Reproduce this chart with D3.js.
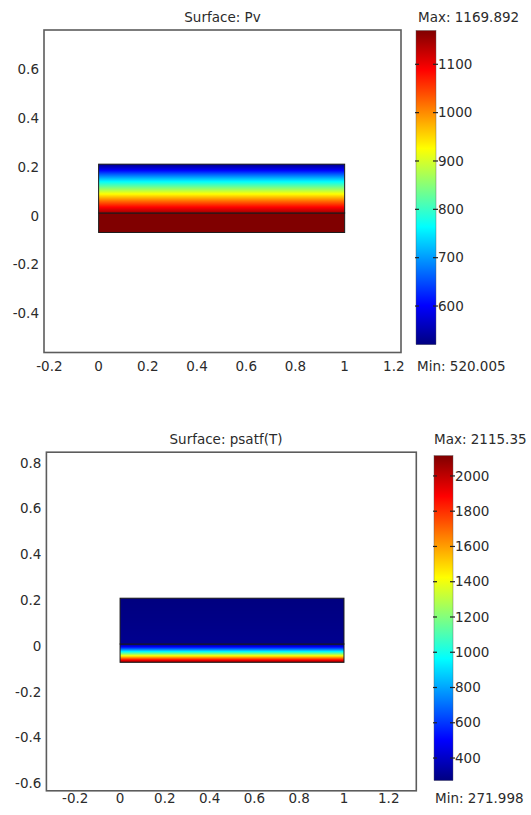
<!DOCTYPE html>
<html><head><meta charset="utf-8">
<script src="https://cdn.jsdelivr.net/npm/d3@7"></script>
<style>
body{margin:0;background:#fff;}
text{font-family:"DejaVu Sans",Verdana,sans-serif;font-size:13.5px;fill:#2b2b2b;}
</style>
</head><body>
<svg id="chart" width="531" height="815"></svg>
<script>
// ---------- Panel 1: Surface: Pv ----------
const pvTitle = "Surface: Pv";
const pvMax = 1169.892;
const pvMin = 520.005;
const pvUpperY   = [0, 0.025, 0.05, 0.075, 0.1, 0.125, 0.15, 0.175, 0.2];
const pvUpperVal = [1150, 1085, 1015, 935, 855, 775, 690, 600, 525];
const pvLowerY   = [-0.08, 0];
const pvLowerVal = [1169.892, 1169.892];
const pvXTicks   = [-0.2, 0, 0.2, 0.4, 0.6, 0.8, 1, 1.2];
const pvYTicks   = [-0.4, -0.2, 0, 0.2, 0.4, 0.6];
const pvBarTicks = [600, 700, 800, 900, 1000, 1100];

// ---------- Panel 2: Surface: psatf(T) ----------
const psTitle = "Surface: psatf(T)";
const psMax = 2115.35;
const psMin = 271.998;
const psUpperY   = [0, 0.1, 0.2];
const psUpperVal = [300, 285, 272];
const psLowerY   = [-0.08, -0.07, -0.06, -0.05, -0.04, -0.03, -0.02, -0.01, 0];
const psLowerVal = [2115, 1890, 1640, 1380, 1120, 880, 650, 450, 300];
const psXTicks   = [-0.2, 0, 0.2, 0.4, 0.6, 0.8, 1, 1.2];
const psYTicks   = [-0.6, -0.4, -0.2, 0, 0.2, 0.4, 0.6, 0.8];
const psBarTicks = [400, 600, 800, 1000, 1200, 1400, 1600, 1800, 2000];

// geometry extent (x) of the rectangle
const geomX = [0, 1];

// jet colormap
const jetStops = [[0,0,0,0.5],[0.125,0,0,1],[0.375,0,1,1],[0.625,1,1,0],[0.875,1,0,0],[1,0.5,0,0]];
function jet(t){
  t = Math.max(0, Math.min(1, t));
  for (let i = 1; i < jetStops.length; i++){
    const a = jetStops[i-1], b = jetStops[i];
    if (t <= b[0]){
      const f = (t - a[0]) / (b[0] - a[0]);
      const c = [1,2,3].map(k => Math.round(255*(a[k] + f*(b[k]-a[k]))));
      return `rgb(${c[0]},${c[1]},${c[2]})`;
    }
  }
  return "rgb(128,0,0)";
}
const fmt = d => String(+d.toFixed(1));

const svg = d3.select("#chart");
const defs = svg.append("defs");
let gid = 0;

function drawPanel(p){
  const g = svg.append("g");
  const x = d3.scaleLinear().domain(p.xDomain).range([p.frame.x0, p.frame.x1]);
  const y = d3.scaleLinear().domain(p.yDomain).range([p.frame.y1, p.frame.y0]);
  const norm = v => (v - p.min) / (p.max - p.min);

  // title
  g.append("text").attr("x", p.titleX).attr("y", p.titleY).attr("dy","0.35em")
    .attr("text-anchor","middle").text(p.title);

  // subdomains with gradient shading
  p.subs.forEach(s => {
    const yb = d3.min(s.ys), yt = d3.max(s.ys);
    const prof = d3.scaleLinear().domain(s.ys).range(s.vals);
    const id = "g" + (gid++);
    const grad = defs.append("linearGradient").attr("id", id)
      .attr("gradientUnits","userSpaceOnUse")
      .attr("x1",0).attr("x2",0).attr("y1", y(yb)).attr("y2", y(yt));
    const N = 60;
    d3.range(N+1).forEach(i => {
      const yy = yb + (yt - yb) * i / N;
      grad.append("stop").attr("offset", i/N).attr("stop-color", jet(norm(prof(yy))));
    });
    g.append("rect")
      .attr("x", x(geomX[0])).attr("width", x(geomX[1]) - x(geomX[0]))
      .attr("y", y(yt)).attr("height", y(yb) - y(yt))
      .attr("fill", `url(#${id})`)
      .attr("stroke", "#1a1a1a").attr("stroke-width", 1);
  });

  // frame
  g.append("rect").attr("x", p.frame.x0).attr("y", p.frame.y0)
    .attr("width", p.frame.x1 - p.frame.x0).attr("height", p.frame.y1 - p.frame.y0)
    .attr("fill","none").attr("stroke","#5c5c5c").attr("stroke-width",1.6);

  // x tick labels
  g.selectAll(null).data(p.xTicks).join("text")
    .attr("x", d => x(d)).attr("y", p.xLabelY).attr("dy","0.35em")
    .attr("text-anchor","middle").text(fmt);
  // y tick labels
  g.selectAll(null).data(p.yTicks).join("text")
    .attr("x", p.frame.x0 - 5).attr("y", d => y(d) + p.yLabelShift).attr("dy","0.35em")
    .attr("text-anchor","end").text(fmt);

  // colorbar
  const cb = d3.scaleLinear().domain([p.min, p.max]).range([p.bar.yb, p.bar.yt]);
  const cid = "g" + (gid++);
  const cg = defs.append("linearGradient").attr("id", cid)
    .attr("gradientUnits","userSpaceOnUse")
    .attr("x1",0).attr("x2",0).attr("y1", cb(p.min)).attr("y2", cb(p.max));
  d3.range(41).forEach(i => cg.append("stop").attr("offset", i/40).attr("stop-color", jet(i/40)));
  g.append("rect").attr("x", p.bar.x0).attr("width", p.bar.x1 - p.bar.x0)
    .attr("y", cb(p.max)).attr("height", cb(p.min) - cb(p.max))
    .attr("fill", `url(#${cid})`).attr("stroke","#555").attr("stroke-width",0.4);
  const tk = g.selectAll(null).data(p.barTicks).join("g");
  tk.append("line").attr("x1", p.bar.x0 - 1).attr("x2", p.bar.x0 + 3)
    .attr("y1", d => cb(d)).attr("y2", d => cb(d)).attr("stroke","#222").attr("stroke-width",1.2);
  tk.append("line").attr("x1", p.bar.x1 - 3).attr("x2", p.bar.x1 + 2)
    .attr("y1", d => cb(d)).attr("y2", d => cb(d)).attr("stroke","#222").attr("stroke-width",1.2);
  tk.append("text").attr("x", p.bar.x1 + 2).attr("y", d => cb(d)).attr("dy","0.35em").text(d => d);

  g.append("text").attr("x", p.maxX).attr("y", p.titleY).attr("dy","0.35em").text("Max: " + p.maxLabel);
  g.append("text").attr("x", p.minX).attr("y", p.xLabelY).attr("dy","0.35em").text("Min: " + p.minLabel);
}

drawPanel({
  title: pvTitle, min: pvMin, max: pvMax, maxLabel: "1169.892", minLabel: "520.005",
  xDomain: [-0.222, 1.229], yDomain: [-0.572, 0.75],
  frame: {x0: 44, x1: 401, y0: 30, y1: 352.5},
  titleX: 222.5, titleY: 17, xLabelY: 366, yLabelShift: 3,
  xTicks: pvXTicks, yTicks: pvYTicks, barTicks: pvBarTicks,
  bar: {x0: 416, x1: 436, yt: 30.5, yb: 344.7},
  maxX: 418, minX: 417,
  subs: [{ys: pvLowerY, vals: pvLowerVal}, {ys: pvUpperY, vals: pvUpperVal}]
});

drawPanel({
  title: psTitle, min: psMin, max: psMax, maxLabel: "2115.35", minLabel: "271.998",
  xDomain: [-0.329, 1.323], yDomain: [-0.641, 0.8376],
  frame: {x0: 46.4, x1: 416.3, y0: 452.2, y1: 790.8},
  titleX: 226, titleY: 439.5, xLabelY: 798, yLabelShift: 2,
  xTicks: psXTicks, yTicks: psYTicks, barTicks: psBarTicks,
  bar: {x0: 434, x1: 453, yt: 455.6, yb: 780.6},
  maxX: 434, minX: 435,
  subs: [{ys: psLowerY, vals: psLowerVal}, {ys: psUpperY, vals: psUpperVal}]
});
</script>
</body></html>
